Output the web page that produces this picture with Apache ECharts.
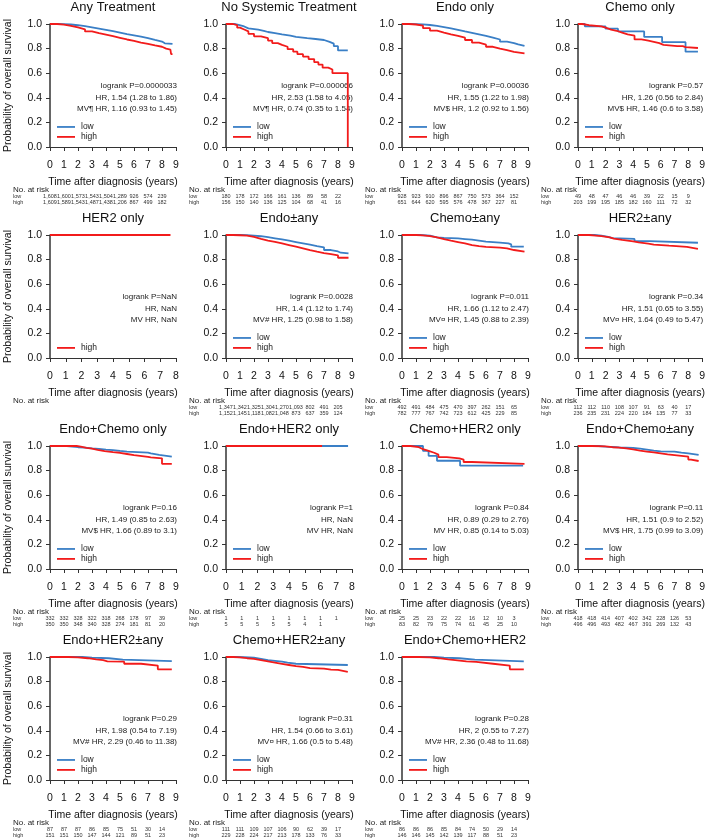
<!DOCTYPE html>
<html><head><meta charset="utf-8">
<script src="https://cdn.jsdelivr.net/npm/echarts@6/dist/echarts.min.js"></script>
<style>html,body{margin:0;padding:0;background:#fff}#c{width:708px;height:838px}</style>
</head><body><div id="c"></div>
<script>
// ---------- DATA ----------
const titles = ["Any Treatment","No Systemic Treatment","Endo only","Chemo only",
  "HER2 only","Endo±any","Chemo±any","HER2±any",
  "Endo+Chemo only","Endo+HER2 only","Chemo+HER2 only","Endo+Chemo±any",
  "Endo+HER2±any","Chemo+HER2±any","Endo+Chemo+HER2"];
const xMaxes = [9,9,9,9, 8,9,9,9, 9,8,9,9, 9,9,9];

// KM curves [years, survival]
const anyLow = [[0,1],[0.5,0.999],[1,0.996],[1.5,0.99],[2,0.982],[2.5,0.973],[3,0.963],[3.5,0.953],[4,0.942],[4.5,0.93],[5,0.918],[5.5,0.908],[6,0.897],[6.5,0.885],[7,0.87],[7.5,0.857],[8,0.843],[8.2,0.838],[8.75,0.838]];
const anyHigh = [[0,1],[0.5,0.995],[1,0.985],[1.5,0.972],[2,0.957],[2.5,0.94],[3,0.926],[3.5,0.914],[4,0.902],[4.5,0.888],[5,0.874],[5.5,0.862],[6,0.849],[6.5,0.838],[7,0.826],[7.5,0.815],[8,0.8],[8.3,0.792],[8.6,0.788],[8.65,0.755],[8.75,0.755]];
const nstLow = [[0,1],[0.6,0.993],[0.9,0.98],[1.3,0.965],[1.6,0.955],[2.3,0.945],[2.7,0.935],[3.0,0.925],[3.5,0.915],[4.0,0.905],[4.6,0.895],[5.0,0.885],[5.8,0.878],[6.4,0.87],[7.0,0.855],[7.4,0.84],[7.7,0.82],[8.0,0.785],[8.7,0.785]];
const nstHigh = [[0,1],[0.5,0.99],[0.8,0.97],[1.0,0.955],[1.3,0.94],[1.6,0.92],[2.0,0.9],[2.5,0.885],[3.0,0.865],[3.3,0.845],[3.7,0.83],[4.0,0.815],[4.4,0.795],[4.8,0.775],[5.1,0.755],[5.5,0.735],[5.9,0.715],[6.3,0.69],[6.6,0.67],[6.9,0.645],[7.3,0.63],[7.6,0.6],[8.7,0.6],[8.7,0]];
const endoLow = [[0,1],[0.5,0.999],[1,0.997],[1.5,0.992],[2,0.984],[2.5,0.975],[3,0.965],[3.5,0.953],[4,0.94],[4.5,0.928],[5,0.916],[5.5,0.904],[6,0.89],[6.5,0.874],[7,0.856],[7.5,0.845],[8,0.834],[8.3,0.822],[8.75,0.822]];
const endoHigh = [[0,1],[0.5,0.996],[1,0.987],[1.5,0.966],[2,0.946],[2.5,0.93],[3,0.916],[3.5,0.903],[4,0.889],[4.5,0.87],[5,0.848],[5.5,0.832],[6,0.815],[6.5,0.8],[7,0.788],[7.5,0.774],[8,0.762],[8.75,0.762]];
const chemoLow = [[0,1],[0.5,0.98],[2.0,0.962],[2.9,0.94],[4.8,0.895],[6.1,0.852],[7.8,0.775],[8.7,0.775]];
const chemoHigh = [[0,1],[0.3,0.99],[0.8,0.98],[1.7,0.97],[2.0,0.955],[2.4,0.945],[2.8,0.93],[3.2,0.915],[3.6,0.905],[4.1,0.875],[4.6,0.865],[5.1,0.855],[5.5,0.845],[5.9,0.83],[6.2,0.82],[7.2,0.82],[7.6,0.812],[7.8,0.805],[8.7,0.805]];
const her2High = [[0,1],[7.65,1]];
const endoAnyLow = [[0,1],[1,0.999],[1.5,0.995],[2,0.99],[2.5,0.982],[3,0.973],[3.5,0.964],[4,0.954],[4.5,0.943],[5,0.932],[5.5,0.921],[6,0.91],[6.5,0.9],[7,0.878],[7.5,0.866],[8,0.856],[8.2,0.85],[8.75,0.85]];
const endoAnyHigh = [[0,1],[0.5,0.998],[1,0.995],[1.5,0.984],[2,0.968],[2.5,0.955],[3,0.944],[3.5,0.931],[4,0.918],[4.5,0.905],[5,0.891],[5.5,0.877],[6,0.864],[6.5,0.853],[7,0.845],[7.5,0.835],[8,0.815],[8.75,0.81]];
const chemoAnyLow = [[0,1],[1.3,0.995],[2,0.981],[2.5,0.976],[3,0.972],[4,0.967],[4.5,0.962],[5,0.954],[5.5,0.946],[6,0.938],[7,0.932],[7.6,0.924],[7.8,0.905],[8.7,0.905]];
const chemoAnyHigh = [[0,1],[1,0.997],[1.5,0.99],[2,0.98],[2.5,0.967],[3,0.954],[3.5,0.943],[4,0.932],[4.5,0.918],[5,0.91],[5.5,0.903],[6,0.897],[7,0.891],[7.5,0.878],[8,0.864],[8.75,0.859]];
const her2AnyLow = [[0,1],[1.2,0.995],[1.7,0.985],[2.2,0.975],[2.5,0.968],[4.1,0.95],[5.2,0.937],[8.7,0.937]];
const her2AnyHigh = [[0,1],[0.8,0.995],[1.3,0.99],[1.7,0.98],[2.3,0.97],[2.6,0.96],[3.2,0.955],[3.6,0.948],[4.0,0.94],[4.4,0.93],[5.1,0.922],[5.5,0.913],[6.6,0.903],[7.9,0.888],[8.7,0.888]];
const ecLow = [[0,1],[1.2,0.995],[1.6,0.99],[2,0.986],[2.5,0.98],[3,0.976],[3.5,0.97],[4,0.967],[4.5,0.96],[5,0.954],[5.5,0.946],[7.0,0.94],[7.2,0.927],[7.8,0.913],[8.7,0.913]];
const ecHigh = [[0,1],[1.9,0.995],[2.2,0.985],[2.6,0.978],[3.0,0.968],[3.4,0.958],[3.9,0.95],[4.5,0.945],[5.0,0.935],[5.5,0.925],[6.0,0.912],[7.0,0.907],[7.2,0.9],[8.0,0.855],[8.7,0.855]];
const ehLow = [[0,1],[7.75,1]];
const ehHigh = [[0,1],[6.1,1]];
const chLow = [[0,1],[1.5,0.96],[1.9,0.92],[2.5,0.88],[4.15,0.84],[8.65,0.84]];
const chHigh = [[0,1],[0.6,0.99],[1.2,0.975],[1.5,0.96],[1.9,0.945],[2.3,0.93],[2.6,0.91],[3.2,0.9],[4.1,0.89],[4.4,0.87],[5.0,0.855],[8.75,0.855]];
const ecAnyLow = [[0,1],[1.5,0.995],[2,0.992],[2.5,0.988],[3,0.984],[4,0.978],[4.5,0.97],[5,0.962],[5.5,0.957],[6,0.954],[7,0.946],[7.5,0.94],[8,0.927],[8.75,0.926]];
const ecAnyHigh = [[0,1],[1,0.997],[2,0.99],[2.5,0.986],[3,0.981],[3.5,0.972],[4,0.962],[4.5,0.955],[5,0.948],[5.5,0.94],[6,0.932],[6.5,0.926],[7,0.92],[7.5,0.913],[8,0.89],[8.2,0.878],[8.75,0.878]];
const ehAnyLow = [[0,1],[2.3,0.995],[3,0.99],[4.2,0.978],[5.2,0.966],[8.7,0.966]];
const ehAnyHigh = [[0,1],[1.3,0.997],[2.0,0.99],[2.7,0.98],[3.3,0.975],[3.8,0.965],[4.1,0.962],[5.3,0.945],[6.5,0.93],[7.7,0.9],[8.7,0.9]];
const chAnyLow = [[0,1],[0.8,0.998],[1.3,0.995],[2,0.985],[2.5,0.975],[3,0.963],[4,0.955],[4.4,0.945],[5.0,0.935],[8.7,0.935]];
const chAnyHigh = [[0,1],[0.5,0.997],[1,0.99],[1.5,0.985],[2,0.975],[2.5,0.965],[3,0.955],[3.5,0.945],[4,0.935],[4.5,0.925],[5,0.92],[5.5,0.91],[6,0.905],[7,0.898],[7.5,0.895],[8,0.88],[8.7,0.88]];
const echLow = [[0,1],[2.3,0.995],[3,0.99],[4.1,0.978],[5.2,0.965],[8.7,0.963]];
const echHigh = [[0,1],[1.2,0.997],[2.0,0.99],[2.6,0.98],[3.3,0.975],[3.8,0.965],[4.6,0.96],[5.3,0.945],[6.5,0.93],[7.7,0.9],[8.7,0.9]];

const lowCurves = [anyLow,nstLow,endoLow,chemoLow,null,endoAnyLow,chemoAnyLow,her2AnyLow,ecLow,ehLow,chLow,ecAnyLow,ehAnyLow,chAnyLow,echLow];
const highCurves = [anyHigh,nstHigh,endoHigh,chemoHigh,her2High,endoAnyHigh,chemoAnyHigh,her2AnyHigh,ecHigh,ehHigh,chHigh,ecAnyHigh,ehAnyHigh,chAnyHigh,echHigh];

// statistics text
const statLines = [
 ["logrank P=0.0000033","HR, 1.54 (1.28 to 1.86)","MV¶ HR, 1.16 (0.93 to 1.45)"],
 ["logrank P=0.000066","HR, 2.53 (1.58 to 4.05)","MV¶ HR, 0.74 (0.35 to 1.54)"],
 ["logrank P=0.00036","HR, 1.55 (1.22 to 1.98)","MV$ HR, 1.2 (0.92 to 1.56)"],
 ["logrank P=0.57","HR, 1.26 (0.56 to 2.84)","MV$ HR, 1.46 (0.6 to 3.58)"],
 ["logrank P=NaN","HR, NaN","MV HR, NaN"],
 ["logrank P=0.0028","HR, 1.4 (1.12 to 1.74)","MV# HR, 1.25 (0.98 to 1.58)"],
 ["logrank P=0.011","HR, 1.66 (1.12 to 2.47)","MV¤ HR, 1.45 (0.88 to 2.39)"],
 ["logrank P=0.34","HR, 1.51 (0.65 to 3.55)","MV¤ HR, 1.64 (0.49 to 5.47)"],
 ["logrank P=0.16","HR, 1.49 (0.85 to 2.63)","MV$ HR, 1.66 (0.89 to 3.1)"],
 ["logrank P=1","HR, NaN","MV HR, NaN"],
 ["logrank P=0.84","HR, 0.89 (0.29 to 2.76)","MV HR, 0.85 (0.14 to 5.03)"],
 ["logrank P=0.11","HR, 1.51 (0.9 to 2.52)","MV$ HR, 1.75 (0.99 to 3.09)"],
 ["logrank P=0.29","HR, 1.98 (0.54 to 7.19)","MV# HR, 2.29 (0.46 to 11.38)"],
 ["logrank P=0.31","HR, 1.54 (0.66 to 3.61)","MV¤ HR, 1.66 (0.5 to 5.48)"],
 ["logrank P=0.28","HR, 2 (0.55 to 7.27)","MV# HR, 2.36 (0.48 to 11.68)"]
];

// numbers at risk
const riskLow = [
 ["1,608","1,600","1,573","1,543","1,504","1,289","926","574","239"],
 ["180","178","172","166","161","136","89","58","22"],
 ["928","923","910","896","867","750","573","364","152"],
 ["49","48","47","46","46","39","22","15","9"],
 [],
 ["1,347","1,342","1,325","1,304","1,270","1,093","802","491","205"],
 ["492","491","484","475","470","397","262","151","65"],
 ["112","112","110","108","107","91","63","40","17"],
 ["332","332","328","322","318","268","178","97","39"],
 ["1","1","1","1","1","1","1","1"],
 ["25","25","23","22","22","16","12","10","3"],
 ["418","418","414","407","402","342","228","126","53"],
 ["87","87","87","86","85","75","51","30","14"],
 ["111","111","109","107","106","90","62","39","17"],
 ["86","86","86","85","84","74","50","29","14"]
];
const riskHigh = [
 ["1,609","1,589","1,543","1,487","1,438","1,206","867","499","182"],
 ["156","150","140","136","125","104","68","41","16"],
 ["651","644","620","595","576","478","367","227","81"],
 ["203","199","195","185","182","160","111","72","32"],
 [],
 ["1,152","1,145","1,118","1,082","1,048","873","637","359","124"],
 ["782","777","767","742","723","612","425","229","85"],
 ["236","235","231","224","220","184","135","77","33"],
 ["350","350","348","340","328","274","181","81","20"],
 ["5","5","5","5","5","4","1"],
 ["83","82","79","75","74","61","45","25","10"],
 ["496","496","493","482","467","391","269","132","43"],
 ["151","151","150","147","144","121","89","51","23"],
 ["229","228","224","217","213","178","133","76","33"],
 ["146","146","145","142","139","117","88","51","23"]
];

// ---------- STYLE / LAYOUT ----------
const FONT = '"Liberation Sans", Arial, Helvetica, sans-serif';
const BLUE = '#3A7FC6', RED = '#F21B1B', INK = '#111', AX = '#333';

const chart = echarts.init(document.getElementById('c'), null, {renderer:'canvas'});
const grid = [], xAxis = [], yAxis = [], series = [];
titles.forEach((t, i) => {
  const col = i % 4, row = Math.floor(i / 4);
  grid.push({left: 50 + 176 * col, top: 24 + 211 * row, width: 126, height: 123});
  xAxis.push({type:'value', gridIndex:i, min:0, max:xMaxes[i], interval:1,
    splitLine:{show:false},
    axisLine:{show:true, onZero:false, lineStyle:{color:AX, width:1.2}},
    axisTick:{show:true, length:4, lineStyle:{color:AX, width:1}},
    axisLabel:{fontSize:10.5, color:INK, margin:13, fontFamily:FONT},
    name:'Time after diagnosis (years)', nameLocation:'middle', nameGap:30,
    nameTextStyle:{fontSize:10.5, color:INK, fontFamily:FONT}});
  yAxis.push({type:'value', gridIndex:i, min:0, max:1, interval:0.2,
    splitLine:{show:false},
    axisLine:{show:true, lineStyle:{color:AX, width:1.5}},
    axisTick:{show:true, length:4, lineStyle:{color:AX, width:1}},
    axisLabel:{fontSize:10.5, color:INK, margin:8, fontFamily:FONT, formatter: v => v.toFixed(1)}});
  if (lowCurves[i]) series.push({type:'line', name:'low', xAxisIndex:i, yAxisIndex:i, data:lowCurves[i],
    step:'end', showSymbol:false, symbol:'none', clip:false, silent:true,
    lineStyle:{color:BLUE, width:1.8}, itemStyle:{color:BLUE}});
  series.push({type:'line', name:'high', xAxisIndex:i, yAxisIndex:i, data:highCurves[i],
    step:'end', showSymbol:false, symbol:'none', clip:false, silent:true,
    lineStyle:{color:RED, width:1.8}, itemStyle:{color:RED}});
});
chart.setOption({animation:false, backgroundColor:'#fff', grid, xAxis, yAxis, series});

// ---------- texts (positions via the library's own scales) ----------
function txt(x, y, s, size, align, extra) {
  return Object.assign({type:'text', x, y, silent:true,
    style:{text:s, fontSize:size, fontFamily:FONT, fill:INK, align:align, verticalAlign:'middle',
      textAlign:align, textVerticalAlign:'middle'}}, extra || {});
}
const g = [];
titles.forEach((t, i) => {
  const P = (x, y) => chart.convertToPixel({gridIndex:i}, [x, y]);
  const [x0, yb] = P(0, 0);
  const [xr, yt] = P(xMaxes[i], 1);
  g.push(txt((x0 + xr) / 2, yt - 17, t, 13, 'center'));
  [0.5, 0.4, 0.31].forEach((v, k) => {
    const t2 = txt(xr + 1, P(0, v)[1], statLines[i][k], 8, 'right');
    t2.style.fill = '#222';
    g.push(t2);
  });
  // legend
  const legendRows = [];
  if (lowCurves[i]) legendRows.push(['low', BLUE, 0.163]);
  legendRows.push(['high', RED, 0.082]);
  legendRows.forEach(([nm, c, v]) => {
    const y = P(0, v)[1];
    g.push({type:'line', silent:true, shape:{x1:x0 + 7, y1:y, x2:x0 + 25, y2:y}, style:{stroke:c, lineWidth:1.8}});
    const tt = txt(x0 + 31, y, nm, 8.5, 'left'); tt.style.fill = '#222'; g.push(tt);
  });
  // y title
  if (i % 4 === 0) {
    g.push(txt(8, (yb + yt) / 2, 'Probability of overall survival', 10.5, 'center', {rotation: Math.PI / 2}));
  }
  // numbers at risk
  const nt = txt(x0 - 37, yb + 43, 'No. at risk', 8, 'left'); nt.style.fill = '#222'; g.push(nt);
  const rowsRisk = [['low', riskLow[i], yb + 49.5], ['high', riskHigh[i], yb + 55.5]];
  if (riskLow[i].length || riskHigh[i].length) {
    rowsRisk.forEach(([lab, vals, y]) => {
      const lt = txt(x0 - 37, y, lab, 5.5, 'left'); lt.style.fill = '#333'; g.push(lt);
      vals.forEach((v, k) => {
        const nx = P(k, 0)[0];
        const vt = txt(nx, y, v, 5.5, 'center'); vt.style.fill = '#333'; g.push(vt);
      });
    });
  }
});
chart.setOption({graphic: g});
</script></body></html>
